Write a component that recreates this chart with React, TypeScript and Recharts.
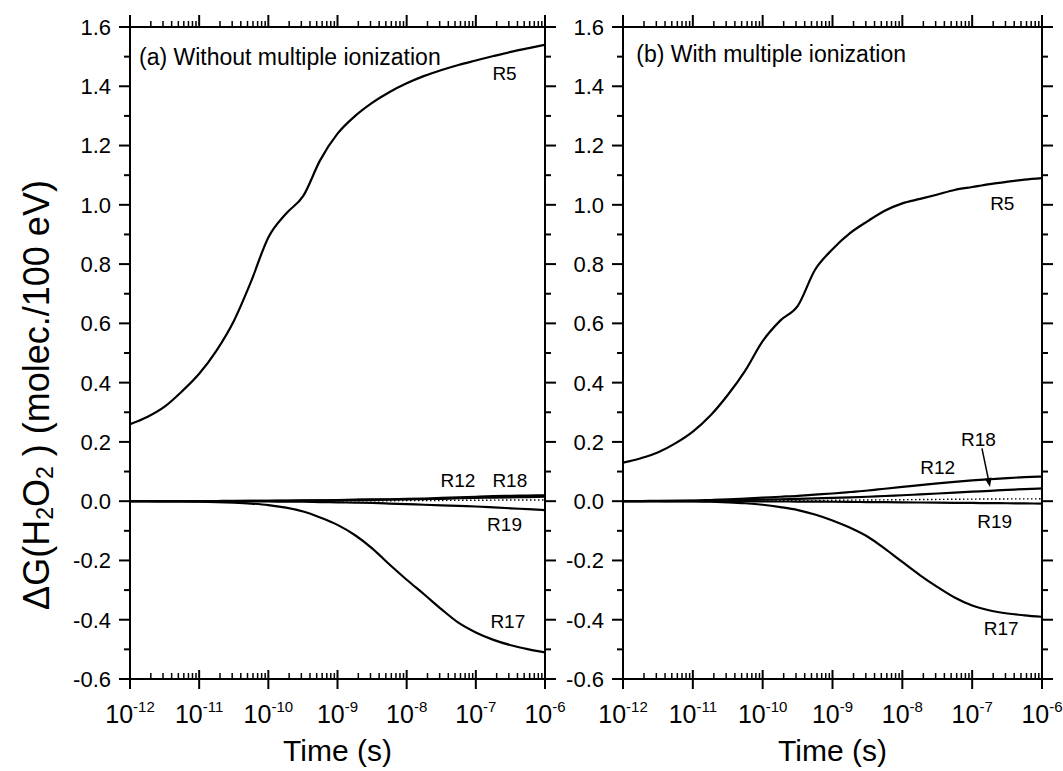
import React from 'react';
import { LineChart, Line, XAxis, YAxis, ReferenceDot, ReferenceLine, Label } from 'recharts';

const FONT = '"Liberation Sans", Arial, Helvetica, sans-serif';

// sample times, quarter decades from 1 ps to 1 us
const times = [
  1e-12, 1.8e-12, 3.2e-12, 5.6e-12, 1e-11, 1.8e-11, 3.2e-11, 5.6e-11,
  1e-10, 1.8e-10, 3.2e-10, 5.6e-10, 1e-9, 1.8e-9, 3.2e-9, 5.6e-9,
  1e-8, 1.8e-8, 3.2e-8, 5.6e-8, 1e-7, 1.8e-7, 3.2e-7, 5.6e-7, 1e-6,
];

// (a) without multiple ionization
const r5A = [0.26, 0.285, 0.32, 0.37, 0.43, 0.51, 0.61, 0.74, 0.89, 0.97, 1.03, 1.15, 1.24, 1.3, 1.345, 1.38, 1.41, 1.435, 1.455, 1.472, 1.487, 1.502, 1.516, 1.528, 1.54];
const r12A = [0, 0, 0, 0, 0, 0.0005, 0.001, 0.001, 0.0015, 0.002, 0.0025, 0.003, 0.004, 0.005, 0.006, 0.0065, 0.0075, 0.009, 0.011, 0.013, 0.015, 0.017, 0.018, 0.019, 0.02];
const r18A = [0, 0, 0, 0, 0, 0, 0.0005, 0.001, 0.001, 0.0015, 0.002, 0.0025, 0.003, 0.004, 0.0045, 0.005, 0.006, 0.007, 0.008, 0.01, 0.011, 0.012, 0.013, 0.014, 0.015];
const dotA = [0, 0, 0, 0, 0, 0, 0, 0, 0, 0, 0, 0, 0.0005, 0.001, 0.001, 0.0015, 0.002, 0.002, 0.0025, 0.003, 0.003, 0.0035, 0.004, 0.004, 0.004];
const r19A = [0, 0, 0, 0, 0, 0, -0.0005, -0.0005, -0.001, -0.0015, -0.002, -0.003, -0.004, -0.005, -0.006, -0.008, -0.01, -0.012, -0.014, -0.016, -0.018, -0.021, -0.024, -0.027, -0.03];
const r17A = [0, 0, -0.001, -0.001, -0.002, -0.003, -0.005, -0.008, -0.013, -0.022, -0.035, -0.055, -0.08, -0.115, -0.16, -0.213, -0.265, -0.315, -0.365, -0.41, -0.443, -0.468, -0.486, -0.499, -0.51];

// (b) with multiple ionization
const r5B = [0.13, 0.145, 0.165, 0.195, 0.235, 0.29, 0.36, 0.44, 0.54, 0.61, 0.66, 0.78, 0.85, 0.905, 0.945, 0.98, 1.005, 1.02, 1.035, 1.05, 1.06, 1.07, 1.078, 1.085, 1.09];
const r12B = [0, 0.0005, 0.001, 0.0015, 0.002, 0.004, 0.006, 0.009, 0.012, 0.015, 0.018, 0.022, 0.026, 0.031, 0.036, 0.042, 0.048, 0.054, 0.06, 0.065, 0.07, 0.074, 0.078, 0.081, 0.083];
const r18B = [0, 0, 0.0005, 0.001, 0.001, 0.002, 0.003, 0.004, 0.005, 0.0065, 0.008, 0.0095, 0.011, 0.013, 0.015, 0.0175, 0.02, 0.023, 0.026, 0.029, 0.032, 0.035, 0.038, 0.041, 0.043];
const dotB = [0, 0, 0, 0, 0, 0, 0, 0, 0.001, 0.0012, 0.0015, 0.002, 0.003, 0.0035, 0.004, 0.0045, 0.005, 0.0055, 0.006, 0.0065, 0.007, 0.0073, 0.0076, 0.0078, 0.008];
const r19B = [0, 0, 0, 0, 0, 0, 0, 0, -0.001, -0.001, -0.0012, -0.0015, -0.002, -0.0025, -0.003, -0.0035, -0.004, -0.0045, -0.005, -0.0055, -0.006, -0.0065, -0.007, -0.0075, -0.008];
const r17B = [0, 0, 0, -0.001, -0.001, -0.002, -0.004, -0.007, -0.012, -0.02, -0.03, -0.045, -0.065, -0.09, -0.12, -0.16, -0.205, -0.25, -0.29, -0.325, -0.352, -0.369, -0.379, -0.385, -0.39];

const xMajor = [1e-12, 1e-11, 1e-10, 1e-9, 1e-8, 1e-7, 1e-6];
const yTicks = [-0.6, -0.5, -0.4, -0.3, -0.2, -0.1, 0, 0.1, 0.2, 0.3, 0.4, 0.5, 0.6, 0.7, 0.8, 0.9, 1.0, 1.1, 1.2, 1.3, 1.4, 1.5, 1.6];

const xTicks: number[] = [];
xMajor.forEach((m, i) => {
  xTicks.push(m);
  if (i < xMajor.length - 1) [2, 3, 4, 5, 6, 7, 8, 9].forEach((k) => xTicks.push(m * k));
});

const notesA = [
  { t: 1.35e-12, v: 1.5, text: '(a) Without multiple ionization', start: true, size: 23 },
  { t: 2.6e-7, v: 1.445, text: 'R5', size: 19 },
  { t: 5.5e-8, v: 0.07, text: 'R12', size: 19 },
  { t: 3.1e-7, v: 0.07, text: 'R18', size: 19 },
  { t: 2.6e-7, v: -0.077, text: 'R19', size: 19 },
  { t: 2.9e-7, v: -0.405, text: 'R17', size: 19 },
];
const notesB = [
  { t: 1.55e-12, v: 1.51, text: '(b) With multiple ionization', start: true, size: 23 },
  { t: 2.7e-7, v: 1.005, text: 'R5', size: 19 },
  { t: 3.2e-8, v: 0.114, text: 'R12', size: 19 },
  { t: 1.23e-7, v: 0.21, text: 'R18', size: 19 },
  { t: 2.1e-7, v: -0.068, text: 'R19', size: 19 },
  { t: 2.6e-7, v: -0.43, text: 'R17', size: 19 },
];
const arrowB = [{ x: 1.38e-7, y: 0.178 }, { x: 1.8e-7, y: 0.048 }];

const makeRows = (s: number[][]) =>
  times.map((t, i) => ({ t, r5: s[0][i], r12: s[1][i], r18: s[2][i], dot: s[3][i], r19: s[4][i], r17: s[5][i] }));

const dataA = makeRows([r5A, r12A, r18A, dotA, r19A, r17A]);
const dataB = makeRows([r5B, r12B, r18B, dotB, r19B, r17B]);

const isMajorX = (v: number) => Math.abs(Math.log10(v) - Math.round(Math.log10(v))) < 1e-6;
const isMajorY = (v: number) => Math.round(v * 10) % 2 === 0;

const BottomTick = ({ x, y, payload }: any) => {
  const v = payload.value;
  if (!isMajorX(v)) return <line x1={x} x2={x} y1={y} y2={y - 6} stroke="#000" strokeWidth={1.5} />;
  const exp = Math.round(Math.log10(v));
  return (
    <g>
      <line x1={x} x2={x} y1={y - 9} y2={y + 10} stroke="#000" strokeWidth={2} />
      <text x={x} y={y + 44} textAnchor="middle" fontSize={25} fontFamily={FONT} fill="#000">
        10<tspan dy={-11} fontSize={15}>{`${exp}`}</tspan>
      </text>
    </g>
  );
};

const TopTick = ({ x, y, payload }: any) => {
  const major = isMajorX(payload.value);
  return <line x1={x} x2={x} y1={y} y2={y - (major ? 12 : 6)} stroke="#000" strokeWidth={major ? 2 : 1.5} />;
};

const LeftTick = ({ x, y, payload }: any) => {
  const v = payload.value;
  const major = isMajorY(v);
  return (
    <g>
      <line x1={x} x2={x - (major ? 11 : 6)} y1={y} y2={y} stroke="#000" strokeWidth={2} />
      {major && (
        <text x={x - 19} y={y} dy="0.36em" textAnchor="end" fontSize={22} fontFamily={FONT} fill="#000">
          {v.toFixed(1)}
        </text>
      )}
    </g>
  );
};

const RightTick = ({ x, y, payload }: any) => {
  const major = isMajorY(payload.value);
  return <line x1={x} x2={x + (major ? 11 : 6)} y1={y} y2={y} stroke="#000" strokeWidth={2} />;
};

const XTitle = ({ viewBox }: any) => (
  <text x={viewBox.x + viewBox.width / 2} y={viewBox.y + 82} textAnchor="middle" fontSize={30} fontFamily={FONT} fill="#000">
    Time (s)
  </text>
);

const YTitle = ({ viewBox }: any) => {
  const cx = viewBox.x + 36;
  const cy = viewBox.y + viewBox.height / 2 + 42;
  return (
    <text x={cx} y={cy} transform={`rotate(-90, ${cx}, ${cy})`} textAnchor="middle" dominantBaseline="central" fontSize={36} fontFamily={FONT} fill="#000">
      ΔG(H<tspan dy={9} fontSize={23}>2</tspan><tspan dy={-9}>O</tspan><tspan dy={9} fontSize={23}>2</tspan><tspan dy={-9}> ) (molec./100 eV)</tspan>
    </text>
  );
};

const Arrow = (p: any) => {
  const { x1, y1, x2, y2 } = p;
  const a = Math.atan2(y2 - y1, x2 - x1);
  const L = 9, W = 3.5;
  const bx = x2 - L * Math.cos(a), by = y2 - L * Math.sin(a);
  const pts = `${x2},${y2} ${bx + W * Math.sin(a)},${by - W * Math.cos(a)} ${bx - W * Math.sin(a)},${by + W * Math.cos(a)}`;
  return (
    <g>
      <line x1={x1} y1={y1} x2={bx} y2={by} stroke="#000" strokeWidth={1.5} />
      <polygon points={pts} fill="#000" />
    </g>
  );
};

const axisStroke = { stroke: '#000', strokeWidth: 2 };

function Panel({ data, notes, width, leftW, marginRight, yTitle, arrow }: any) {
  return (
    <LineChart width={width} height={771} data={data} margin={{ top: 25, right: marginRight, bottom: 0, left: 0 }}>
      <XAxis dataKey="t" type="number" scale="log" domain={[1e-12, 1e-6]} allowDataOverflow ticks={xTicks} interval={0}
        tick={<BottomTick />} tickLine={false} tickSize={0} tickMargin={0} height={92} axisLine={axisStroke} label={<XTitle />} />
      <XAxis xAxisId="top" orientation="top" dataKey="t" type="number" scale="log" domain={[1e-12, 1e-6]} allowDataOverflow ticks={xTicks} interval={0}
        tick={<TopTick />} tickLine={false} tickSize={0} tickMargin={0} height={2} axisLine={axisStroke} />
      <YAxis type="number" domain={[-0.6, 1.6]} allowDataOverflow ticks={yTicks} interval={0} width={leftW}
        tick={<LeftTick />} tickLine={false} tickSize={0} tickMargin={0} axisLine={axisStroke} label={yTitle ? <YTitle /> : undefined} />
      <YAxis yAxisId="right" orientation="right" type="number" domain={[-0.6, 1.6]} allowDataOverflow ticks={yTicks} interval={0} width={20}
        tick={<RightTick />} tickLine={false} tickSize={0} tickMargin={0} axisLine={axisStroke} />
      <Line type="monotone" dataKey="dot" stroke="#000" strokeWidth={1.4} strokeDasharray="1.5 2.5" dot={false} isAnimationActive={false} />
      <Line type="monotone" dataKey="r19" stroke="#000" strokeWidth={2.2} dot={false} isAnimationActive={false} />
      <Line type="monotone" dataKey="r18" stroke="#000" strokeWidth={2.2} dot={false} isAnimationActive={false} />
      <Line type="monotone" dataKey="r12" stroke="#000" strokeWidth={2.2} dot={false} isAnimationActive={false} />
      <Line type="monotone" dataKey="r17" stroke="#000" strokeWidth={2.2} dot={false} isAnimationActive={false} />
      <Line type="monotone" dataKey="r5" stroke="#000" strokeWidth={2.2} dot={false} isAnimationActive={false} />
      {notes.map((n: any) => (
        <ReferenceDot key={n.text} x={n.t} y={n.v} r={0} fill="none" stroke="none" ifOverflow="visible"
          label={<Label value={n.text} position={n.start ? 'right' : 'center'} offset={0} fontSize={n.size} fontFamily={FONT} fill="#000" />} />
      ))}
      {arrow && <ReferenceLine segment={arrow} ifOverflow="visible" shape={<Arrow />} />}
    </LineChart>
  );
}

export default function App() {
  return (
    <div style={{ position: 'absolute', left: 0, top: 0, width: 1063, height: 771, background: '#fff' }}>
      <div style={{ position: 'absolute', left: 0, top: 0 }}>
        <Panel data={dataA} notes={notesA} width={580} leftW={130} marginRight={15} yTitle />
      </div>
      <div style={{ position: 'absolute', left: 540, top: 0 }}>
        <Panel data={dataB} notes={notesB} width={523} leftW={83} marginRight={1} arrow={arrowB} />
      </div>
    </div>
  );
}
